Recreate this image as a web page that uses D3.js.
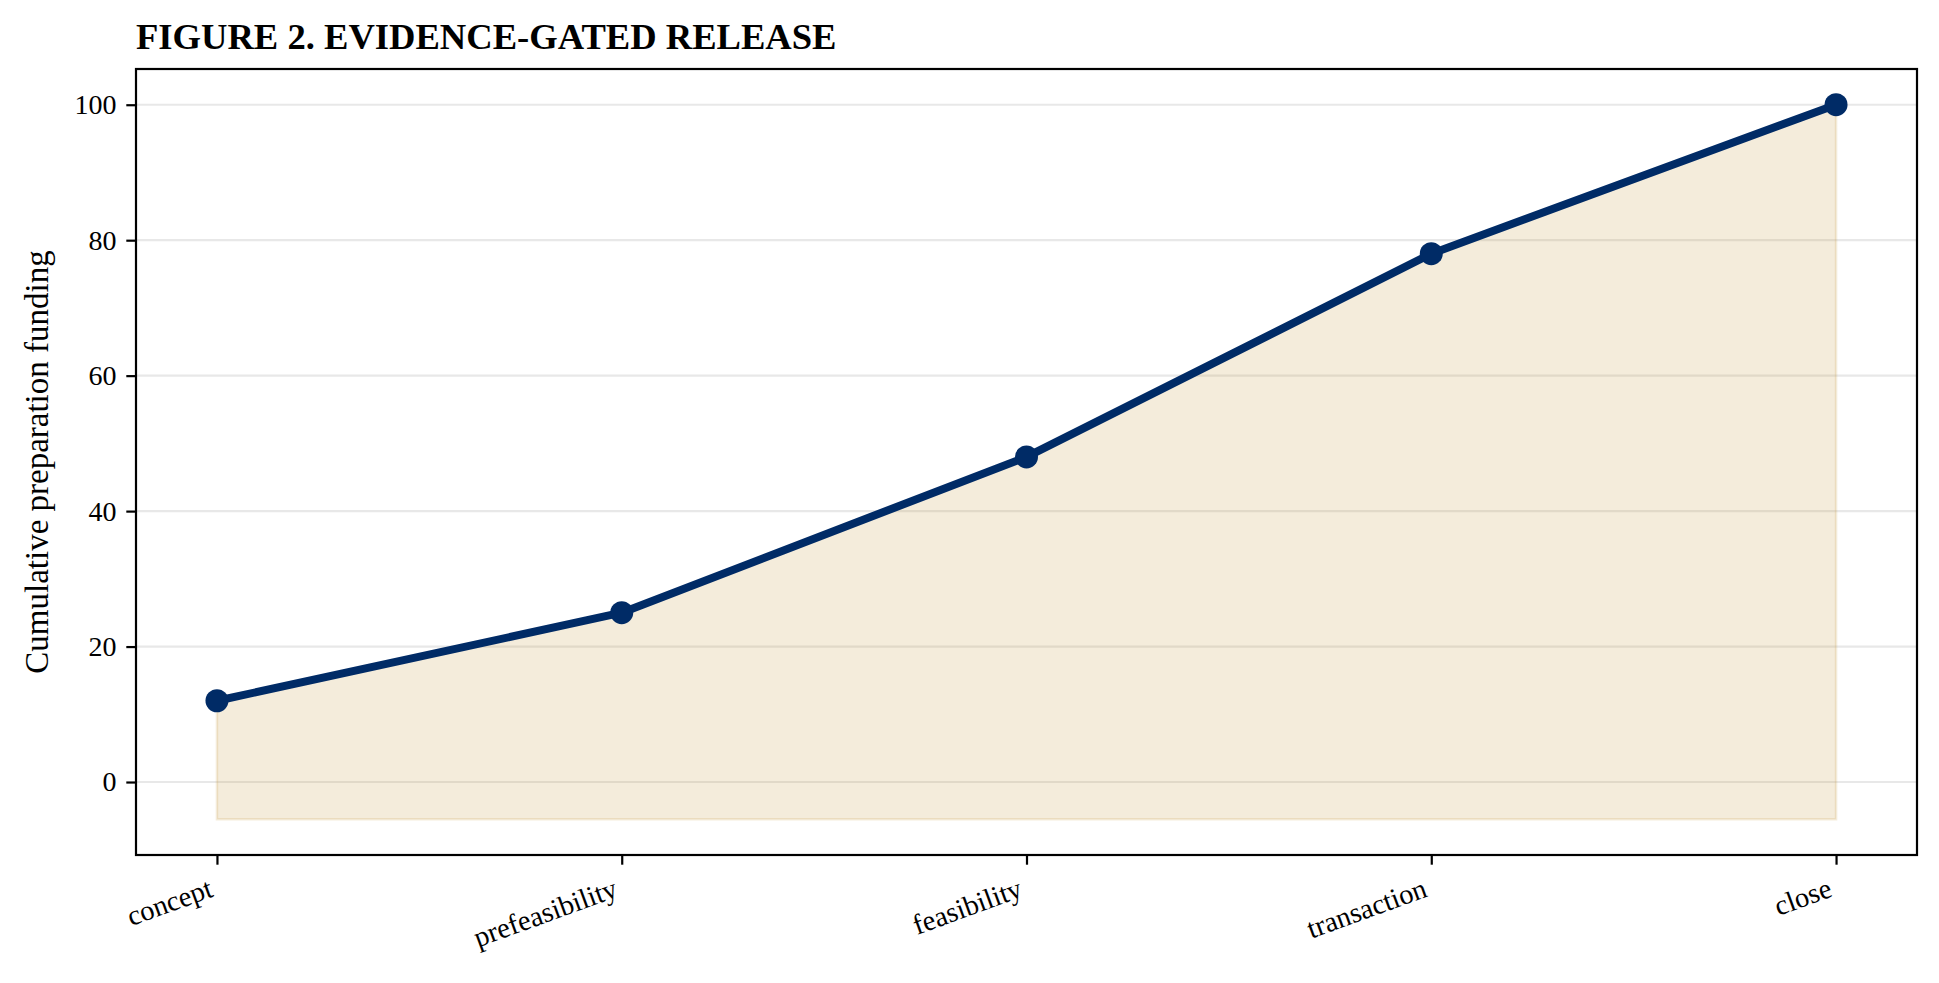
<!DOCTYPE html>
<html>
<head>
<meta charset="utf-8">
<script src="https://cdn.jsdelivr.net/npm/d3@7"></script>
<style>
  body { margin: 0; background: #fff; }
  text { font-family: "Liberation Serif", "Times New Roman", serif; fill: #000; }
</style>
</head>
<body>
<script>
var stages = ["concept", "prefeasibility", "feasibility", "transaction", "close"];
var funding = [12, 25, 48, 78, 100];
var yTicks = [0, 20, 40, 60, 80, 100];
var fillBase = -5.5;

var w = 1939;
var h = 983;
var margin = {top: 69, right: 22, bottom: 128, left: 136};
var iw = w - margin.left - margin.right;
var ih = h - margin.top - margin.bottom;

var navy = "#002b66";
var tan = "#c8a24a";

var svg = d3.select("body").append("svg")
    .attr("width", w)
    .attr("height", h);

var g = svg.append("g")
    .attr("transform", "translate(" + margin.left + "," + margin.top + ")");

// matplotlib-style 5% margins
var x = d3.scaleLinear()
    .domain([-0.2, stages.length - 1 + 0.2])
    .range([0, iw]);

var yPad = (100 - fillBase) * 0.05;
var y = d3.scaleLinear()
    .domain([fillBase - yPad, 100 + yPad])
    .range([ih, 0]);

// grid
g.selectAll("line.grid")
  .data(yTicks)
  .enter()
  .append("line")
  .attr("class", "grid")
  .attr("x1", 0)
  .attr("x2", iw)
  .attr("y1", function(d) { return y(d); })
  .attr("y2", function(d) { return y(d); })
  .attr("stroke", "#e8e8e8")
  .attr("stroke-width", 2.2);

// filled band under the line
var area = d3.area()
    .x(function(d, i) { return x(i); })
    .y0(y(fillBase))
    .y1(function(d) { return y(d); });

g.append("path")
  .datum(funding)
  .attr("d", area)
  .attr("fill", tan)
  .attr("fill-opacity", 0.2)
  .attr("stroke", tan)
  .attr("stroke-opacity", 0.2)
  .attr("stroke-width", 2.5);

var line = d3.line()
    .x(function(d, i) { return x(i); })
    .y(function(d) { return y(d); });

g.append("path")
  .datum(funding)
  .attr("d", line)
  .attr("fill", "none")
  .attr("stroke", navy)
  .attr("stroke-width", 8)
  .attr("stroke-linejoin", "round");

g.selectAll("circle")
  .data(funding)
  .enter()
  .append("circle")
  .attr("cx", function(d, i) { return x(i); })
  .attr("cy", function(d) { return y(d); })
  .attr("r", 11.5)
  .attr("fill", navy);

// axes
var yAxis = d3.axisLeft(y)
    .tickValues(yTicks)
    .tickSize(9.7)
    .tickPadding(9.7);

var yg = g.append("g").call(yAxis);
yg.select(".domain").remove();
yg.selectAll(".tick line").attr("stroke", "#000").attr("stroke-width", 2.2);
yg.selectAll(".tick text")
  .attr("font-size", 28)
  .attr("font-family", "Liberation Serif");

var xAxis = d3.axisBottom(x)
    .tickValues(d3.range(stages.length))
    .tickFormat(function(i) { return stages[i]; })
    .tickSize(9.7)
    .tickPadding(0);

var xg = g.append("g")
    .attr("transform", "translate(0," + ih + ")")
    .call(xAxis);
xg.select(".domain").remove();
xg.selectAll(".tick line").attr("stroke", "#000").attr("stroke-width", 2.2);
xg.selectAll(".tick text")
  .attr("font-size", 28.5)
  .attr("font-family", "Liberation Serif")
  .attr("text-anchor", "end")
  .attr("dy", null)
  .attr("y", null)
  .attr("transform", "translate(-3,41) rotate(-20)");

// frame
g.append("rect")
  .attr("width", iw)
  .attr("height", ih)
  .attr("fill", "none")
  .attr("stroke", "#000")
  .attr("stroke-width", 2.2);

// labels
svg.append("text")
  .attr("x", margin.left)
  .attr("y", 49)
  .attr("font-size", 36.6)
  .attr("font-weight", "bold")
  .text("FIGURE 2. EVIDENCE-GATED RELEASE");

svg.append("text")
  .attr("transform", "translate(48," + (margin.top + ih / 2) + ") rotate(-90)")
  .attr("text-anchor", "middle")
  .attr("font-size", 33)
  .text("Cumulative preparation funding");
</script>
</body>
</html>
